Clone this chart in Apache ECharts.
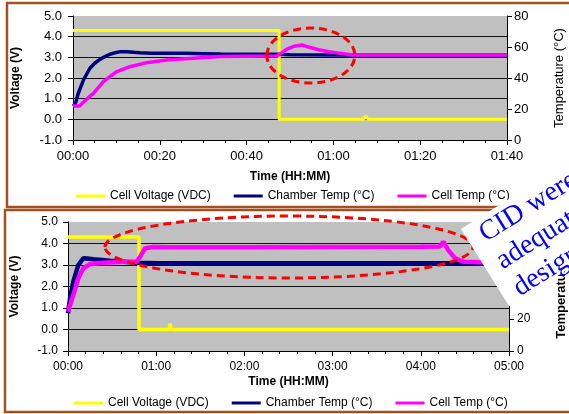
<!DOCTYPE html>
<html><head><meta charset="utf-8">
<script src="https://cdn.jsdelivr.net/npm/echarts@6/dist/echarts.min.js"></script>
<style>html,body{margin:0;padding:0;background:#fff}#c{width:569px;height:414px}</style>
</head><body><div id="c"></div>
<script>
// ---------- DATA ----------
const seriesNames = ['Cell Voltage (VDC)', 'Chamber Temp (°C)', 'Cell Temp (°C)'];

// Top chart (minutes 0-100)
const topXTicks = [0, 20, 40, 60, 80, 100];
const topXLabels = ['00:00', '00:20', '00:40', '01:00', '01:20', '01:40'];
const topVoltT = [0, 47.5, 47.5, 67, 67.5, 68, 100];
const topVoltV = [4.3, 4.3, 0.0, 0.0, 0.15, 0.0, 0.0];
const topChamberT = [0, 0.5, 1.2, 2.4, 3.9, 5, 6.2, 7.5, 8.5, 10, 11, 12.4, 14, 15.4, 18, 20, 24, 26, 30, 34, 40, 47, 50, 60, 80, 100];
const topChamberC = [21.9, 23, 30, 38.7, 46.3, 49.5, 52, 54, 55.3, 56.5, 57, 57, 56.6, 56.3, 56, 55.9, 56, 55.9, 55.7, 55.5, 55.4, 55.3, 55, 54.8, 54.8, 54.8];
const topCellT = [0, 1.5, 3, 4.7, 7, 10, 13.1, 17, 21.6, 27.7, 33.9, 40, 46.9, 48, 49.2, 51, 52.7, 54.5, 56.9, 59, 61.5, 64.5, 80, 100];
const topCellC = [21.9, 21.9, 26, 30.1, 37.6, 44, 47.3, 49.9, 51.6, 52.7, 53.8, 54.1, 54.2, 56, 58.5, 60.5, 61.3, 59.8, 58, 57, 55.9, 54.8, 54.8, 54.8];

// Bottom chart (minutes 0-300)
const botXTicks = [0, 60, 120, 180, 240, 300];
const botXLabels = ['00:00', '01:00', '02:00', '03:00', '04:00', '05:00'];
const botVoltT = [0, 48.3, 48.3, 68.8, 69.4, 70, 300];
const botVoltV = [4.3, 4.3, 0.0, 0.0, 0.28, 0.0, 0.0];
const botChamberT = [0, 1.4, 3.6, 7, 10.4, 13, 17.2, 28.6, 46.7, 62.6, 100, 150, 200, 250, 300];
const botChamberC = [23.4, 32.8, 43, 53.3, 57.5, 57.3, 56.9, 56, 54.8, 54.4, 54.4, 54.4, 54.4, 54.4, 54.4];
const botCellT = [0, 3.6, 7, 10.4, 15, 24, 40, 46.7, 49, 52.4, 58, 69.4, 120, 180, 240, 253, 255.3, 258.7, 263.3, 269, 280, 300];
const botCellC = [24.4, 34.7, 45, 51.3, 53.8, 54.8, 55.4, 55.4, 58.5, 63.7, 64.5, 64.3, 64.3, 64.5, 64.6, 64.8, 67.8, 62.6, 57.5, 55.4, 55, 55];

// Axis tick labels
const voltTicks = [-1, 0, 1, 2, 3, 4, 5];
const voltLabels = ['-1.0', '0.0', '1.0', '2.0', '3.0', '4.0', '5.0'];
const tempTicks = [0, 20, 40, 60, 80];
const tempLabels = ['0', '20', '40', '60', '80'];

// Annotation
const calloutLines = ['CID were', 'adequate', 'designed'];

// ---------- CHART ----------
const FONT = 'Liberation Sans';
const pairs = (xs, ys) => xs.map((x, i) => [x, ys[i]]);
const lab = (ticks, labels) => v => { const i = ticks.indexOf(v); return i >= 0 ? labels[i] : ''; };

function xAxisCfg(gi, max, interval, minorSplit, ticks, labels, fs, margin, nameGap) {
  return {
    type: 'value', gridIndex: gi, min: 0, max: max, interval: interval,
    axisLine: { show: true, onZero: false, lineStyle: { color: '#000', width: 1 } },
    axisTick: { show: true, length: 5, lineStyle: { color: '#000' } },
    minorTick: { show: true, splitNumber: minorSplit, length: 3, lineStyle: { color: '#000' } },
    splitLine: { show: false },
    axisLabel: { color: '#000', fontSize: fs, fontFamily: FONT, margin: margin, formatter: lab(ticks, labels) },
    name: 'Time (HH:MM)', nameLocation: 'middle', nameGap: nameGap,
    nameTextStyle: { color: '#000', fontSize: 12, fontWeight: 'bold', fontFamily: FONT }
  };
}
function vAxisCfg(gi, fs, margin, nameGap) {
  return {
    type: 'value', gridIndex: gi, position: 'left', min: -1, max: 5, interval: 1,
    axisLine: { show: true, lineStyle: { color: '#000', width: 1 } },
    axisTick: { show: true, length: 5, lineStyle: { color: '#000' } },
    splitLine: { show: true, showMaxLine: false, showMinLine: false, lineStyle: { color: '#111', width: 1.2 } },
    axisLabel: { color: '#000', fontSize: fs, fontFamily: FONT, margin: margin, formatter: lab(voltTicks, voltLabels) },
    name: 'Voltage (V)', nameLocation: 'middle', nameGap: nameGap,
    nameTextStyle: { color: '#000', fontSize: 12, fontWeight: 'bold', fontFamily: FONT }
  };
}
function tAxisCfg(gi, fs, margin, nameGap, bold) {
  return {
    type: 'value', gridIndex: gi, position: 'right', min: 0, max: 80, interval: 20,
    axisLine: { show: true, lineStyle: { color: '#000', width: 1 } },
    axisTick: { show: true, length: 5, lineStyle: { color: '#000' } },
    splitLine: { show: false },
    axisLabel: { color: '#000', fontSize: fs, fontFamily: FONT, margin: margin, formatter: lab(tempTicks, tempLabels) },
    name: 'Temperature (°C)', nameLocation: 'middle', nameGap: nameGap,
    nameTextStyle: { color: '#000', fontSize: 13, fontWeight: bold ? 'bold' : 'normal', fontFamily: FONT }
  };
}
function legendCfg(left, top) {
  return {
    left: left, top: top, itemWidth: 29, itemHeight: 3, itemGap: 23, padding: 0, icon: 'rect',
    textStyle: { color: '#000', fontSize: 12, fontFamily: FONT },
    data: seriesNames.slice(),
    selectedMode: false
  };
}
function lineSeries(name, xi, yi, data, color, w, z) {
  return { name: name, type: 'line', xAxisIndex: xi, yAxisIndex: yi, data: data, symbol: 'none',
    lineStyle: { color: color, width: w }, itemStyle: { color: color }, z: z, silent: true };
}

const chart = echarts.init(document.getElementById('c'), null, { renderer: 'canvas' });
chart.setOption({
  animation: false,
  backgroundColor: '#fff',
  grid: [
    { left: 73, top: 16, width: 434, height: 124, show: true, backgroundColor: '#C0C0C0', borderWidth: 0, containLabel: false, outerBoundsMode: 'none' },
    { left: 68, top: 222, width: 441, height: 129, show: true, backgroundColor: '#C0C0C0', borderWidth: 0, containLabel: false, outerBoundsMode: 'none' }
  ],
  xAxis: [
    xAxisCfg(0, 100, 20, 4, topXTicks, topXLabels, 13, 10, 31),
    xAxisCfg(1, 300, 60, 5, botXTicks, botXLabels, 12, 10, 25)
  ],
  yAxis: [
    vAxisCfg(0, 13, 11, 51),
    tAxisCfg(0, 13, 7, 46, false),
    vAxisCfg(1, 12, 10, 47),
    tAxisCfg(1, 12, 8, 46, true)
  ],
  legend: [legendCfg(76, 190), legendCfg(74, 397)],
  series: [
    lineSeries(seriesNames[0], 0, 0, pairs(topVoltT, topVoltV), '#FFFF00', 3, 2),
    lineSeries(seriesNames[1], 0, 1, pairs(topChamberT, topChamberC), '#000080', 3.5, 3),
    lineSeries(seriesNames[2], 0, 1, pairs(topCellT, topCellC), '#FF00FF', 3.5, 4),
    lineSeries(seriesNames[0], 1, 2, pairs(botVoltT, botVoltV), '#FFFF00', 3.5, 2),
    lineSeries(seriesNames[1], 1, 3, pairs(botChamberT, botChamberC), '#000080', 4.5, 3),
    lineSeries(seriesNames[2], 1, 3, pairs(botCellT, botCellC), '#FF00FF', 4.5, 4)
  ]
});

// annotations: positioned relative to data coordinates
const c1 = chart.convertToPixel({ xAxisIndex: 0, yAxisIndex: 1 }, [54.8, 54.5]);
const c2 = chart.convertToPixel({ xAxisIndex: 1, yAxisIndex: 3 }, [150.3, 64.5]);
const BROWN = '#A5501E';
const dash = { fill: null, stroke: '#FF0000', lineWidth: 3, lineDash: [8, 5] };
chart.setOption({
  graphic: [
    { type: 'rect', silent: true, z: 1, shape: { x: 7, y: 3, width: 620, height: 204 }, style: { fill: null, stroke: BROWN, lineWidth: 2.5 } },
    { type: 'rect', silent: true, z: 1, shape: { x: 5, y: 210, width: 620, height: 202 }, style: { fill: null, stroke: BROWN, lineWidth: 2.5 } },
    { type: 'ellipse', silent: true, z: 50, shape: { cx: c1[0], cy: c1[1], rx: 44, ry: 27.5 }, style: dash },
    { type: 'ellipse', silent: true, z: 50, shape: { cx: c2[0], cy: c2[1], rx: 184, ry: 31 }, style: dash },
    { type: 'group', silent: true, z: 100, x: 461, y: 229, rotation: 32 * Math.PI / 180,
      children: [
        { type: 'rect', z: 100, shape: { x: 0, y: 0, width: 260, height: 91 }, style: { fill: '#fff', stroke: null } },
        { type: 'text', z: 101, style: { x: 14, y: 1, text: calloutLines.join('\n'), fill: '#0000FF',
          font: '28px "Liberation Serif", "Times New Roman", serif', lineHeight: 32, verticalAlign: 'top' } }
      ] }
  ]
});
</script></body></html>
